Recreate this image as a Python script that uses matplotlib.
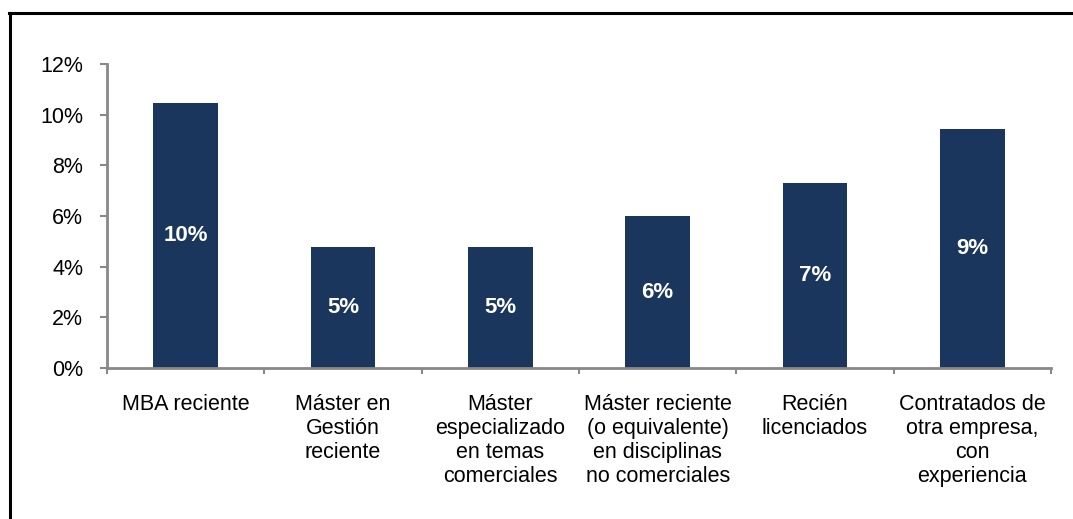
import matplotlib.pyplot as plt
from matplotlib.lines import Line2D
import numpy as np

categories = [
    "MBA reciente",
    "Máster en\nGestión\nreciente",
    "Máster\nespecializado\nen temas\ncomerciales",
    "Máster reciente\n(o equivalente)\nen disciplinas\nno comerciales",
    "Recién\nlicenciados",
    "Contratados de\notra empresa,\ncon\nexperiencia",
]
values = [10.45, 4.76, 4.76, 5.99, 7.3, 9.42]
yticks = [0, 2, 4, 6, 8, 10, 12]

bar_color = "#1b365d"
axis_color = "#888888"

plt.rcParams['font.family'] = ['Liberation Sans', 'DejaVu Sans']

fig = plt.figure(figsize=(10.73, 5.19), dpi=100)
ax = fig.add_axes([0.0997, 0.2909, 0.8798, 0.5858])

x = np.arange(len(categories))
bars = ax.bar(x, values, width=0.41, color=bar_color, zorder=2)

for b, v in zip(bars, values):
    ax.text(b.get_x() + b.get_width() / 2, v / 2, "%.0f%%" % v,
            ha='center', va='center', color='white', fontsize=16, fontweight='bold')

ax.set_xlim(-0.5, len(categories) - 0.5)
ax.set_ylim(0, 12)
ax.set_yticks(yticks)
ax.set_yticklabels(["%d%%" % t for t in yticks], fontsize=15.5)

# boundaries get tick marks, centres get the labels
ax.set_xticks(np.arange(len(categories) + 1) - 0.5)
ax.set_xticklabels([])
ax.set_xticks(x, minor=True)
ax.set_xticklabels(categories, minor=True, fontsize=15.5, linespacing=1.18)
ax.tick_params(axis='x', which='minor', length=0, pad=19)
ax.tick_params(axis='x', which='major', direction='out', length=4, color=axis_color, width=1.5)
ax.tick_params(axis='y', direction='out', length=5, color=axis_color, width=1.5, pad=12)

for s in ['top', 'right']:
    ax.spines[s].set_visible(False)
for s in ['left', 'bottom']:
    ax.spines[s].set_color(axis_color)
    ax.spines[s].set_linewidth(2)

# frame lines on the left and top of the figure
fig.add_artist(Line2D([9.5 / 1073, 9.5 / 1073], [0, 1 - 12.5 / 519], color='black', lw=2.2))
fig.add_artist(Line2D([8.5 / 1073, 1], [1 - 12.5 / 519, 1 - 12.5 / 519], color='black', lw=2.2))

fig.savefig("out.png", dpi=100)
